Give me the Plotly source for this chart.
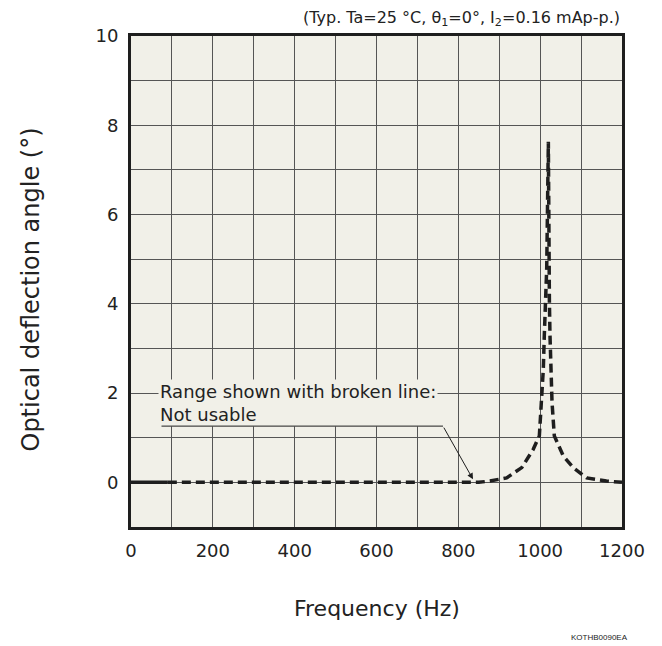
import plotly.graph_objects as go

# ---- data ----
solid_freq = [0, 90]
solid_angle = [0, 0]

dash_freq = [90, 850, 877, 918, 955, 983, 998, 1003.7, 1007.7, 1010.1, 1012.6, 1016, 1020,
             1021, 1022.6, 1024, 1025.7, 1029, 1034.6, 1056.6, 1081, 1113.7, 1162, 1200]
dash_angle = [0, 0, 0.03, 0.1, 0.33, 0.74, 1.04, 1.79, 2.54, 3.29, 4.04, 4.79, 7.63,
              4.79, 4.04, 3.29, 2.54, 1.79, 1.04, 0.59, 0.33, 0.1, 0.03, 0]

x_tickvals = [0, 200, 400, 600, 800, 1000, 1200]
x_ticktext = ["0", "200", "400", "600", "800", "1000", "1200"]
y_tickvals = [0, 2, 4, 6, 8, 10]
y_ticktext = ["0", "2", "4", "6", "8", "10"]

title_text = "(Typ. Ta=25 °C, θ<sub>1</sub>=0°, I<sub>2</sub>=0.16 mAp-p.)"
note_text = "Range shown with broken line:<br>Not usable"
x_title = "Frequency (Hz)"
y_title = "Optical deflection angle (°)"
code_text = "KOTHB0090EA"

BG = "#f1f0e8"
INK = "#1e1e1e"
FONT = "DejaVu Sans"
GRID = "#555"

fig = go.Figure()
fig.add_trace(go.Scatter(x=solid_freq, y=solid_angle, mode="lines",
                         line=dict(color=INK, width=3.5), showlegend=False))
fig.add_trace(go.Scatter(x=dash_freq, y=dash_angle, mode="lines",
                         line=dict(color=INK, width=3.5, dash="9px,5px"), showlegend=False))

fig.update_layout(
    width=662, height=646,
    margin=dict(l=131, r=40, t=36, b=119),
    paper_bgcolor="white", plot_bgcolor=BG,
    font=dict(family=FONT, color="#222", size=18),
    showlegend=False,
)
fig.update_xaxes(range=[0, 1200], tickvals=x_tickvals, ticktext=x_ticktext,
                 showgrid=True, gridcolor=GRID, gridwidth=1, zeroline=False,
                 minor=dict(tick0=0, dtick=100, showgrid=True, gridcolor=GRID, gridwidth=1),
                 showline=True, linecolor=INK, linewidth=3, mirror=True,
                 ticks="", tickfont=dict(size=18, family=FONT), ticklabelstandoff=5)
fig.update_yaxes(range=[-1, 10], tickvals=y_tickvals, ticktext=y_ticktext,
                 showgrid=True, gridcolor=GRID, gridwidth=1, zeroline=False,
                 minor=dict(tick0=0, dtick=1, showgrid=True, gridcolor=GRID, gridwidth=1),
                 showline=True, linecolor=INK, linewidth=3, mirror=True,
                 ticks="", tickfont=dict(size=18, family=FONT), ticklabelstandoff=6)

# note text with background hiding grid
fig.add_annotation(x=67, y=1.77, xref="x", yref="y", text=note_text, showarrow=False,
                   xanchor="left", yanchor="middle", align="left",
                   bgcolor=BG, borderpad=1, font=dict(size=18, family=FONT, color="#222"))
# underline (drawn after the note box so it stays visible)
fig.add_annotation(x=762.5, y=1.26, xref="x", yref="y", ax=70.9, ay=1.26,
                   axref="x", ayref="y", text="", showarrow=True,
                   arrowhead=0, arrowwidth=1, arrowcolor=INK, standoff=0, startstandoff=0)
# arrow
fig.add_annotation(x=835.8, y=0.07, xref="x", yref="y", ax=762.5, ay=1.26,
                   axref="x", ayref="y", text="", showarrow=True,
                   arrowhead=2, arrowsize=1.2, arrowwidth=1, arrowcolor=INK)

# title
fig.add_annotation(x=1, y=1, xref="paper", yref="paper", yshift=18, text=title_text,
                   showarrow=False, xanchor="right", yanchor="middle",
                   font=dict(size=16, family=FONT, color="#222"))
# axis titles
fig.add_annotation(x=0.5, y=0, xref="paper", yref="paper", yshift=-81, text=x_title,
                   showarrow=False, xanchor="center", yanchor="middle",
                   font=dict(size=22, family=FONT, color="#222"))
fig.add_annotation(x=0, y=0.5, xref="paper", yref="paper", xshift=-101, yshift=-8,
                   text=y_title, textangle=-90, showarrow=False,
                   xanchor="center", yanchor="middle",
                   font=dict(size=24, family=FONT, color="#222"))
fig.add_annotation(x=1, y=0, xref="paper", yref="paper", xshift=8, yshift=-110,
                   text=code_text, showarrow=False, xanchor="right", yanchor="middle",
                   font=dict(size=8, family="Liberation Sans", color="#222"))

fig.write_html("out.html")
